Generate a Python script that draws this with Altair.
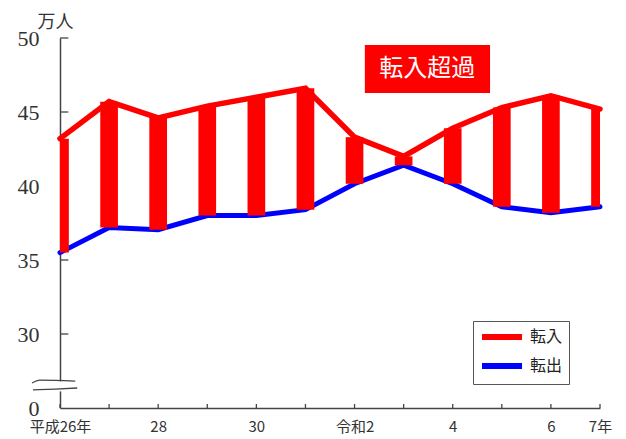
import altair as alt
import pandas as pd

# ---- data ----
years = list(range(2014, 2026))
tennyu = [43.2, 45.7, 44.6, 45.4, 46.0, 46.6, 43.3, 42.0, 43.9, 45.3, 46.1, 45.2]   # 転入 (万人)
tenshutsu = [35.5, 37.2, 37.05, 38.0, 38.0, 38.4, 40.15, 41.4, 40.15, 38.6, 38.2, 38.6]  # 転出 (万人)
series_names = ["転入", "転出"]
series_colors = ["#FF0000", "#0000FF"]
x_label_values = [2014, 2016, 2018, 2020, 2022, 2024, 2025]
x_label_texts = ["平成26年", "28", "30", "令和2", "4", "6", "7年"]
y_tick_values = [25, 30, 35, 40, 45, 50]
y_tick_texts = ["0", "30", "35", "40", "45", "50"]
annotation_text = ["転入超過"]

# annotation / break-mark geometry in data units
annot_box = pd.DataFrame({"x": [2020.21], "x2": [2022.76], "y": [46.28], "y2": [49.53],
                          "tx": [2021.48], "ty": [47.9], "text": annotation_text})
break_gap = pd.DataFrame({"x": [2013.9], "x2": [2014.1], "y": [26.12], "y2": [26.8]})
break_lines = pd.DataFrame({
    "x": [2013.43, 2013.59, 2014.31, 2013.45, 2013.9, 2014.35],
    "y": [26.69, 26.89, 26.82, 26.22, 26.28, 26.35],
    "g": ["a", "a", "a", "b", "b", "b"],
    "o": [0, 1, 2, 0, 1, 2],
})

half_w = 0.18
bars = pd.DataFrame({
    "year": years,
    "in": tennyu,
    "out": tenshutsu,
    "x_lo": [max(years[0], y - half_w) for y in years],
    "x_hi": [min(years[-1], y + half_w) for y in years],
})
lines = pd.DataFrame({
    "year": years * 2,
    "value": tennyu + tenshutsu,
    "series": [series_names[0]] * len(years) + [series_names[1]] * len(years),
})
xticks = pd.DataFrame({"year": years, "y0": [25] * len(years), "y1": [25.27] * len(years)})
yticks = pd.DataFrame({"v": y_tick_values[1:], "x0": [2014] * 5, "x1": [2014.17] * 5})


def label_expr(vals, texts):
    expr = "''"
    for v, t in reversed(list(zip(vals, texts))):
        expr = f"datum.value == {v} ? '{t}' : ({expr})"
    return expr


xscale = alt.Scale(domain=[2014, 2025], nice=False, zero=False)
yscale = alt.Scale(domain=[25, 50], nice=False, zero=False)

x_axis = alt.Axis(values=x_label_values, labelExpr=label_expr(x_label_values, x_label_texts),
                  tickSize=0, labelPadding=11, labelFont="Noto Sans CJK JP", labelFontSize=15,
                  labelColor="#333", domainColor="#444", domainWidth=1.5, grid=False,
                  title=None, labelAngle=0, labelFlush=False, labelOverlap=False)
y_axis = alt.Axis(values=y_tick_values, labelExpr=label_expr(y_tick_values, y_tick_texts),
                  tickSize=0, labelPadding=21, labelFont="Liberation Serif", labelFontSize=22,
                  labelColor="#333", domainColor="#444", domainWidth=1.5, grid=False,
                  title="万人", titleAngle=0, titleX=-5, titleY=-16, titleAlign="center",
                  titleBaseline="middle", titleFont="Noto Sans CJK JP", titleFontSize=18,
                  titleFontWeight="normal", titleColor="#333", labelBaseline="middle")

color = alt.Color("series:N",
                  scale=alt.Scale(domain=series_names, range=series_colors),
                  legend=alt.Legend(orient="none", legendX=413, legendY=283, title=None,
                                    symbolType="M-1.0,0H4.72", symbolSize=196,
                                    symbolStrokeWidth=6, labelFont="Noto Sans CJK JP",
                                    labelFontSize=16, labelOffset=31, rowPadding=5,
                                    padding=6, strokeColor="#555", fillColor="white",
                                    labelColor="#222"))

X = lambda f: alt.X(f, type="quantitative", scale=xscale, axis=x_axis)
Y = lambda f: alt.Y(f, type="quantitative", scale=yscale, axis=y_axis)

blue_line = alt.Chart(lines).transform_filter(
    alt.datum.series == series_names[1]
).mark_line(strokeWidth=5, strokeCap="round").encode(x=X("year"), y=Y("value"), color=color)

bar_layer = alt.Chart(bars).mark_rect(color="#FF0000").encode(
    x=X("x_lo"), x2="x_hi", y=Y("out"), y2="in")

red_line = alt.Chart(lines).transform_filter(
    alt.datum.series == series_names[0]
).mark_line(strokeWidth=5.5, strokeCap="round").encode(x=X("year"), y=Y("value"), color=color)

xtick_layer = alt.Chart(xticks).mark_rule(color="#444", strokeWidth=1.3).encode(
    x=X("year"), y=Y("y0"), y2="y1")
ytick_layer = alt.Chart(yticks).mark_rule(color="#444", strokeWidth=1.3).encode(
    x=X("x0"), x2="x1", y=Y("v"))

gap_layer = alt.Chart(break_gap).mark_rect(color="white").encode(
    x=X("x"), x2="x2", y=Y("y"), y2="y2")
break_layer = alt.Chart(break_lines).mark_line(color="#444", strokeWidth=1.3,
                                               interpolate="monotone").encode(
    x=X("x"), y=Y("y"), detail="g:N", order="o:Q")

box_layer = alt.Chart(annot_box).mark_rect(color="#FF0000").encode(
    x=X("x"), x2="x2", y=Y("y"), y2="y2")
box_text = alt.Chart(annot_box).mark_text(color="white", font="Noto Sans CJK JP",
                                          fontSize=24, align="center",
                                          baseline="middle").encode(
    x=X("tx"), y=Y("ty"), text="text:N")

chart = alt.layer(
    xtick_layer, ytick_layer, gap_layer, break_layer,
    blue_line, bar_layer, red_line, box_layer, box_text
).properties(
    width=540, height=370,
    padding={"left": 52, "top": 30, "right": 18, "bottom": 30},
    autosize=alt.AutoSizeParams(type="none"),
).configure_view(stroke=None)

chart.save("out.html", embed_options={"renderer": "svg", "actions": False})
